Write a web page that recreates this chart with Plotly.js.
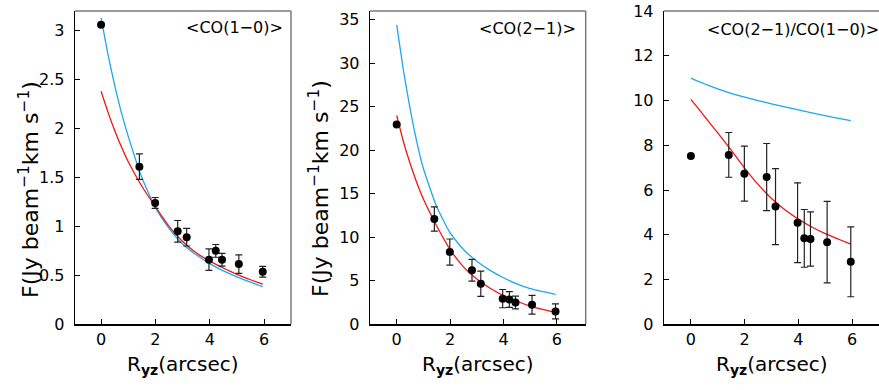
<!DOCTYPE html>
<html>
<head>
<meta charset="utf-8">
<script src="https://cdn.plot.ly/plotly-3.0.1.min.js"></script>
<style>
body { margin: 0; padding: 0; background: #fff; }
#chart { width: 879px; height: 390px; }
</style>
</head>
<body>
<div id="chart"></div>
<script>
// ---- data ----
var pointX = [0, 1.41, 1.99, 2.82, 3.15, 3.97, 4.22, 4.45, 5.07, 5.95];

var co10Y   = [3.06, 1.61, 1.24, 0.95, 0.89, 0.66, 0.75, 0.66, 0.615, 0.536];
var co10Err = [0, 0.13, 0.055, 0.11, 0.09, 0.11, 0.065, 0.065, 0.095, 0.055];

var co21Y   = [22.95, 12.1, 8.3, 6.2, 4.65, 2.95, 2.85, 2.5, 2.25, 1.48];
var co21Err = [0, 1.4, 1.5, 1.25, 1.45, 1.05, 0.9, 0.73, 1.07, 0.86];

var ratioY   = [7.52, 7.57, 6.73, 6.58, 5.26, 4.54, 3.84, 3.81, 3.67, 2.79];
var ratioErr = [0, 1.0, 1.23, 1.5, 1.7, 1.78, 1.29, 1.21, 1.82, 1.56];

var curveX = [0, 0.25, 0.5, 0.75, 1, 1.5, 2, 2.5, 3, 3.5, 4, 4.5, 5, 5.5, 5.95];

var co10Blue = [3.13, 2.76, 2.44, 2.16, 1.92, 1.50, 1.19, 0.98, 0.82, 0.71, 0.62, 0.545, 0.485, 0.43, 0.385];
var co10Red  = [2.38, 2.17, 1.98, 1.81, 1.66, 1.41, 1.20, 1.00, 0.845, 0.73, 0.645, 0.575, 0.51, 0.455, 0.41];

var co21Blue = [34.4, 29.2, 24.8, 21.0, 17.9, 13.5, 10.5, 8.6, 7.25, 6.2, 5.35, 4.65, 4.1, 3.75, 3.45];
var co21Red  = [24.0, 21.0, 18.5, 16.3, 14.4, 11.3, 8.6, 6.6, 5.2, 4.15, 3.3, 2.65, 2.1, 1.68, 1.38];

var ratioBlue = [11.0, 10.87, 10.75, 10.63, 10.52, 10.32, 10.15, 10.0, 9.85, 9.72, 9.58, 9.45, 9.32, 9.2, 9.1];
var ratioRed  = [10.05, 9.68, 9.3, 8.92, 8.55, 7.78, 6.98, 6.25, 5.62, 5.12, 4.7, 4.35, 4.05, 3.8, 3.58];

var panelLabels = ['&lt;CO(1\u22120)&gt;', '&lt;CO(2\u22121)&gt;', '&lt;CO(2\u22121)/CO(1\u22120)&gt;'];
var yTitle = 'F(Jy beam<sup>\u22121</sup>km s<sup>\u22121</sup>)';
var xTitle = 'R<sub><b>yz</b></sub>(arcsec)';

var yTick1 = [0, 0.5, 1, 1.5, 2, 2.5, 3];
var yTick2 = [0, 5, 10, 15, 20, 25, 30, 35];
var yTick3 = [0, 2, 4, 6, 8, 10, 12, 14];
var xTicks = [0, 2, 4, 6];

// ---- styling ----
var BLUE = '#1aa9ef';
var RED = '#f21414';
var FONT = 'DejaVu Sans';
var W = 879, H = 390;

function lineTrace(x, y, color, ax) {
  return {x: x, y: y, type: 'scatter', mode: 'lines', xaxis: 'x' + ax, yaxis: 'y' + ax,
          line: {color: color, width: 1.3, shape: 'spline', smoothing: 0.5}, hoverinfo: 'skip'};
}
function pointTrace(x, y, err, ax) {
  return {x: x, y: y, type: 'scatter', mode: 'markers', xaxis: 'x' + ax, yaxis: 'y' + ax,
          marker: {color: '#000', size: 8},
          error_y: {type: 'data', array: err, visible: true, color: '#222', thickness: 1.2, width: 3.5}};
}

var data = [
  lineTrace(curveX, co10Blue, BLUE, ''), lineTrace(curveX, co10Red, RED, ''), pointTrace(pointX, co10Y, co10Err, ''),
  lineTrace(curveX, co21Blue, BLUE, '2'), lineTrace(curveX, co21Red, RED, '2'), pointTrace(pointX, co21Y, co21Err, '2'),
  lineTrace(curveX, ratioBlue, BLUE, '3'), lineTrace(curveX, ratioRed, RED, '3'), pointTrace(pointX, ratioY, ratioErr, '3')
];

function xax(dom, range, anchor) {
  return {domain: dom, range: range, anchor: anchor, tickvals: xTicks, ticks: 'inside', ticklen: 5,
          tickcolor: '#000', tickwidth: 1, showline: true, linecolor: '#000', linewidth: 1.3,
          zeroline: false, showgrid: false, tickfont: {family: FONT, size: 16, color: '#000'},
          ticklabelstandoff: 0};
}
function yax(range, ticks, anchor) {
  return {domain: [1 - 324.3 / H, 1 - 11 / H], range: range, anchor: anchor, tickvals: ticks,
          ticks: 'inside', ticklen: 5, tickcolor: '#000', tickwidth: 1, showline: true,
          linecolor: '#000', linewidth: 1.3, zeroline: false, showgrid: false,
          tickfont: {family: FONT, size: 16, color: '#000'}, ticklabelstandoff: 6};
}

var layout = {
  width: W, height: H,
  margin: {l: 0, r: 0, t: 0, b: 0},
  paper_bgcolor: '#fff', plot_bgcolor: '#fff',
  showlegend: false,
  xaxis: xax([75 / W, 291 / W], [-0.96, 6.99], 'y'),
  yaxis: yax([0, 3.2], yTick1, 'x'),
  xaxis2: xax([370 / W, 585.7 / W], [-1, 7.08], 'y2'),
  yaxis2: yax([0, 36], yTick2, 'x2'),
  xaxis3: xax([664 / W, 1], [-1, 7], 'y3'),
  yaxis3: yax([0, 14], yTick3, 'x3'),
  shapes: [],
  annotations: []
};

var axIds = ['', '2', '3'];
axIds.forEach(function (a, i) {
  layout.shapes.push({type: 'line', xref: 'x' + a + ' domain', yref: 'y' + a + ' domain',
                      x0: 0, x1: 1, y0: 1, y1: 1, line: {color: '#7a7a7a', width: 1.5}});
  if (i < 2) {
    layout.shapes.push({type: 'line', xref: 'x' + a + ' domain', yref: 'y' + a + ' domain',
                        x0: 1, x1: 1, y0: 0, y1: 1, line: {color: '#7a7a7a', width: 1.5}});
  }
});

var labelPos = [[285, 28, 'right'], [578, 28.5, 'right'], [705, 30, 'left']];
panelLabels.forEach(function (t, i) {
  layout.annotations.push({text: t, xref: 'paper', yref: 'paper', x: labelPos[i][0] / W,
    y: 1 - labelPos[i][1] / H, xanchor: labelPos[i][2], yanchor: 'middle', showarrow: false,
    font: {family: FONT, size: 16, color: '#000'}});
});

[[29, 190], [319, 189]].forEach(function (p) {
  layout.annotations.push({text: yTitle, xref: 'paper', yref: 'paper', x: p[0] / W, y: 1 - p[1] / H,
    xanchor: 'center', yanchor: 'middle', textangle: -90, showarrow: false,
    font: {family: FONT, size: 22, color: '#000'}});
});

[183, 477.8, 771.5].forEach(function (cx) {
  layout.annotations.push({text: xTitle, xref: 'paper', yref: 'paper', x: cx / W, y: 1 - 365 / H,
    xanchor: 'center', yanchor: 'middle', showarrow: false,
    font: {family: FONT, size: 20, color: '#000'}});
});

Plotly.newPlot('chart', data, layout, {displayModeBar: false, staticPlot: true});
</script>
</body>
</html>
